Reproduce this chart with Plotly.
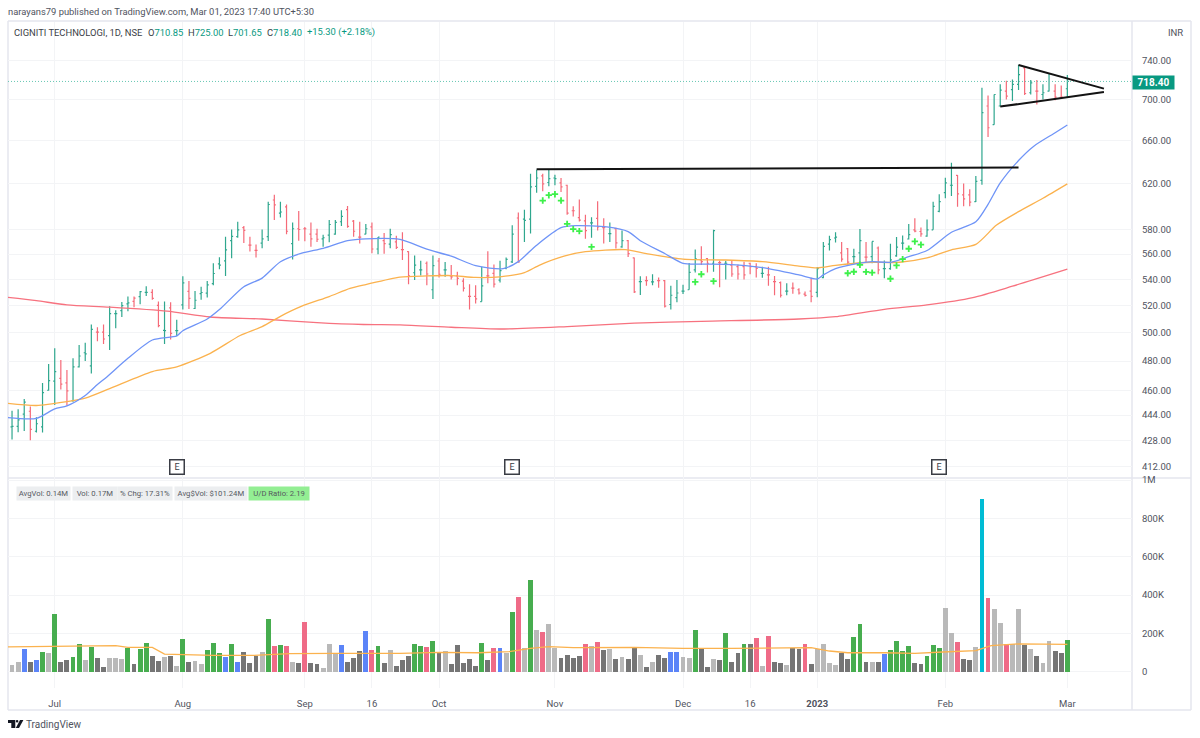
import plotly.graph_objects as go

W, H = 1200, 738
FONT = "Roboto"
TEXT = "#50535e"
GRID = "#f3f4f6"
FRAME = "#e4e6ee"
UP_TEXT = "#089981"

highs = [
    446.8, 447.8, 454.5, 449.5, 442.7, 465, 478, 489, 480.7, 473.9,
    481.9, 491.3, 492.9, 506, 504, 506, 519.5, 516.5, 522.7, 526.8,
    526.8, 531, 534.6, 532.3, 523, 523, 522.5, 509.5, 542.4, 538.7,
    531, 534.3, 538.7, 552.7, 557.5, 574.3, 580.3, 586.8, 583.2, 574.3,
    567.8, 580.3, 604, 610, 604, 601.6, 586.2, 596, 582.4, 586.2,
    580.9, 576, 588.3, 588.3, 596.6, 600.2, 588.3, 586.8, 584.8, 586.2,
    574, 577.3, 580.9, 575,
    578, 562.4, 559, 554.7, 554.2, 559, 557, 553.7, 551.3, 546,
    540.8, 536.3, 535.5, 550, 562.4, 551.8, 554.7, 557.3, 583.8, 594.6,
    597, 628.9, 632.4, 628.9, 633, 628, 625, 619, 600, 605.9,
    592.7, 590.6, 604.4, 589.7, 586.2, 581.8, 579.4, 571.6, 557.3, 542.5,
    542.5, 544, 541.5, 539.5, 535, 539.5, 535.8, 553, 563.7, 566.4,
    557, 580, 554.7, 554.7, 554.7, 551.8, 554, 553.2, 552.7, 550,
    550, 542.7, 538.3, 537, 537.5, 533.2,
    530.6, 541.3, 549.8, 569.9, 575, 578, 570, 565, 564.4, 580.6,
    569.9, 570.4, 566.3, 555, 568.5, 574, 575.3, 585, 589.7, 582,
    588.7, 604, 610.6, 625.2, 639, 627.7, 620, 615, 626.8, 712,
    704, 705, 715.4, 719, 720.5, 735.9, 733.5, 719.8, 719.8, 715.4,
    726.7, 715.4, 714.3, 725,
]
lows = [
    428.6, 433.2, 434, 428.2, 433, 433, 459.8, 450.6, 460.7, 450,
    452.7, 475.5, 480, 471.4, 494, 492, 487.8, 503.3, 511.5, 515.8,
    518.8, 521, 527.3, 524.4, 504, 492, 495.2, 497.5, 517, 517.5,
    517.5, 524.4, 526, 535.5, 547.9, 542.7, 556.8, 573.5, 569, 562.1,
    557.3, 564.7, 570.7, 588.3, 590.4, 576.4, 555.8, 570.9, 570.5, 566,
    570, 566, 569.7, 576, 583.3, 581.8, 574.3, 568.7, 576.4, 560.8,
    560, 560.3, 564.7, 564.2,
    555.3, 536.3, 539.5, 543, 535.5, 525, 541.5, 542, 540, 535.5,
    530.7, 517, 521.5, 523, 537, 533.7, 537.5, 548, 553, 553.2,
    570, 577, 611.8, 613.2, 617.6, 618.5, 612.6, 592.7, 591.2, 587,
    572.5, 573.4, 579.4, 568.6, 570, 564.5, 565.3, 557.8, 529.5, 528,
    535, 535.5, 533.5, 518.5, 517, 522.5, 528.8, 532, 545.3, 551.3,
    545.3, 546, 534, 540, 542, 540, 540, 544, 541.5, 541.3,
    535, 527.8, 526, 527.8, 529, 528.3,
    526.8, 522.5, 526.3, 540.8, 563, 569.6, 554, 551.5, 552.8, 552.8,
    553.3, 552.8, 544, 540.8, 547.5, 558, 563.5, 572, 578, 574.2,
    574.2, 580, 594.8, 607, 609, 599.6, 600, 600, 603.7, 619,
    663, 675, 693, 700, 698.4, 709.5, 704.4, 705, 695, 700,
    708, 699.3, 701.7, 701.65,
]
opens = [
    436.5, 436.9, 444.6, 446.5, 433.8, 436.5, 460.2, 466.3, 468.2, 465.2,
    453.3, 476, 485.8, 476.7, 500.5, 500.5, 497.9, 514, 516.2, 521.2,
    523.2, 526.8, 530, 530, 520.2, 501.7, 518.3, 501.5, 520.5, 530.8,
    517.8, 529, 529.4, 536.7, 552.2, 554.6, 571, 574.3, 581.8, 567.3,
    563, 569, 574.3, 605.5, 594.2, 599.6, 568.5, 580.9, 580.9, 576.4,
    576.4, 572.5, 575.6, 576.4, 586.8, 597.2, 587.4, 574, 576.4, 582.4,
    564.2, 571, 568.2, 570,
    563.7, 562, 545.2, 547.4, 552.7, 532, 554.5, 547.4, 542.7, 542.7,
    538.7, 527, 527, 523, 542.7, 544.7, 539.5, 548.7, 553.8, 590,
    589, 589, 617.6, 627, 621, 625, 620.6, 618.5, 596.2, 590.3,
    587.6, 585.9, 589.7, 581.8, 576.9, 581, 565.9, 571, 557, 538.3,
    539, 538, 539, 539, 520.8, 526, 531, 532, 547.4, 555.3,
    556.5, 552.7, 553.2, 552.7, 551.3, 550, 550, 552.7, 550, 544.7,
    543.5, 538.3, 537.5, 531, 533.2, 532,
    528.6, 531, 530, 541.3, 568.2, 573.2, 561, 564.4, 558, 561,
    557.6, 558, 565, 548.5, 548.5, 558.6, 569, 572.4, 580, 578.6,
    574.8, 580, 595.7, 612, 618.5, 627.4, 610, 610, 604, 622.8,
    693.4, 675, 693.4, 708.5, 710, 715.4, 732.5, 706.8, 708.5, 705,
    708.5, 708.5, 702, 710.85,
]
closes = [
    436.9, 441, 452.4, 435, 438.5, 458.6, 466.6, 472.8, 464.3, 459.8,
    476, 483.5, 485, 502.5, 500.5, 495.5, 514, 514, 520, 522,
    525.6, 530.5, 530, 525.4, 505.2, 501.5, 499.5, 501.5, 537.3, 525.4,
    524, 529.9, 535.7, 544.6, 551.3, 563.5, 574.6, 580, 579.5, 567.3,
    563, 572.5, 601.6, 601.3, 595.1, 578.8, 580.9, 580.3, 580.9, 572.5,
    572.2, 573.4, 584.5, 586.2, 591.3, 582.9, 578.8, 574, 580.9, 564.2,
    574, 568.5, 576, 565.5,
    563.7, 542.8, 551.3, 547.4, 544.2, 550.8, 544, 547.4, 542, 540.8,
    533.2, 527, 525, 535, 542.7, 536.3, 546.8, 555.8, 576.5, 553.8,
    588, 617, 625, 619.7, 624.4, 624.5, 617, 594.2, 596.2, 588.2,
    579.4, 585.9, 582.4, 581.8, 576.9, 569.2, 571, 560.5, 530.3, 538.3,
    539, 538, 539, 519.5, 527.8, 529.5, 531, 545.5, 556.3, 554,
    552.7, 579.4, 553.2, 552.7, 544.2, 544.2, 543.5, 550, 548.7, 544.7,
    543.5, 538.3, 527.8, 531, 533.2, 529.5,
    527.7, 527, 548.5, 566.3, 571.8, 574, 556, 553.6, 558, 571,
    557.6, 570.4, 547.5, 548.5, 555.4, 565.8, 569, 576, 579, 576.6,
    580, 600, 604, 620.6, 618.5, 610.8, 606.5, 603.7, 622, 686.9,
    672, 705, 709.5, 703.4, 715.4, 725.6, 706, 717, 708.5, 706.8,
    726.5, 702.4, 702.3, 718.4,
]
bar_dir = (
    "GGGRGGGGRR" "GGGGRRGGGG" "RGGRRGRGGR" "GGGGGGGGRR" "RGGRGRGRRR"
    "RGGGGRRRGR" "GRGR"
    "RRGGRGRGRR" "RRRGRRGGGR" "GGGRGGRRRR" "RGRRGRGRRG" "RGRRGGGGGR"
    "RGRGRRRRRG" "RRRGRR"
    "RRGGGGRRGG" "RGRGGGGGRR" "GGGGGRRRGG" "RGGRGGRGRG" "GRRG"
)
volumes = [
    35, 52, 119, 52, 61, 101, 98, 300, 52, 61,
    77, 147, 61, 131, 73, 23, 70, 70, 65, 122,
    40, 119, 150, 82, 56, 77, 82, 28, 171, 49,
    56, 40, 113, 148, 98, 77, 143, 49, 103, 44,
    84, 103, 274, 134, 138, 134, 49, 44, 262, 44,
    40, 19, 143, 98, 138, 52, 73, 110, 213, 113,
    134, 44, 113, 28,
    61, 82, 143, 134, 131, 160, 98, 106, 40, 140,
    47, 66, 28, 150, 61, 122, 126, 98, 312, 389,
    122, 480, 216, 208, 250, 122, 73, 86, 73, 80,
    147, 134, 155, 113, 117, 65, 77, 68, 122, 89,
    24, 52, 86, 73, 101, 101, 77, 72, 216, 124,
    24, 68, 61, 200, 52, 98, 147, 147, 175, 31,
    187, 52, 44, 35, 122, 117,
    147, 40, 120, 143, 47, 35, 98, 68, 183, 248,
    52, 52, 49, 92, 113, 159, 108, 134, 45, 40,
    84, 138, 126, 332, 200, 154, 65, 61, 129, 899,
    386, 326, 253, 143, 147, 326, 138, 119, 84, 47,
    162, 108, 98, 166,
]
vol_kind = (
    "LLBDBGLGDD" "GGLGDDLLLG" "DGGDDLDLGD" "LLGGGBGBDD" "DLGRGRLDRD"
    "DLLLBDDDBR" "GDLD"
    "DDGGRGDLDD" "DDDGDRBLGR" "LGLRLLDDDD" "RLRDLDLDDL" "DLDDBBLLGD"
    "DLDGDDGDRL" "RDDLDD"
    "RDLLLLDDGG" "DLDBGGGGDD" "GGGLLRDDLC" "RLLRLLDLDL" "LDDG"
)
vol_colors = {
    "G": "#47ad4f", "D": "#757575", "L": "#b9b9b9",
    "B": "#5b84f8", "R": "#ef6b87", "C": "#00bcd4",
}

# moving averages, read at the bends of each line
ma_blue_x = [-1, 4, 7, 9, 12, 14, 15.5, 19, 23, 27, 28, 32, 34, 38, 41, 44, 47.5, 51, 55, 58, 63.6,
             68, 72, 76, 80.5, 83, 86, 90, 92.5, 97.5, 101, 103, 107, 110, 113, 117, 123, 129,
             132, 133, 135, 139, 141, 144, 147, 150, 154, 158, 160, 162, 165, 167.5, 171, 173]
ma_blue_y = [442.5, 441.9, 448, 450, 456.8, 464, 469, 481.9, 494.8, 497.8, 501.5, 510, 517, 534.3, 541, 553.9, 560.8, 564.7, 571, 572.5, 572,
             564, 558.4, 550.8, 548.4, 554, 567.3, 581.8, 583.5, 582.4, 578.5, 571, 560.5, 552.6, 552, 551.8, 549.2, 543.5,
             540.3, 543.5, 548.5, 552.8, 554, 553.5, 558, 563, 578, 586.8, 601.7, 620.6, 641, 654.4, 667.2, 674.7]
ma_orange_x = [-1, 4, 9, 12, 16, 23, 27, 32.5, 37.4, 41, 44, 47.5, 52, 55.4, 58, 63.6,
               68, 72, 76, 80, 84, 86.5, 90.5, 94, 100.5, 104, 110, 117, 123, 129,
               132, 135, 140, 145.5, 150, 154, 158, 161.4, 165, 169, 173]
ma_orange_y = [451.7, 450.2, 452.7, 455, 461.3, 472.8, 476, 485.4, 498, 504.5, 512, 519.5, 526.8, 533, 536, 541.8,
               542.7, 543, 541.5, 542, 545.3, 551.3, 558.4, 562, 563.7, 560.5, 556, 555.3, 554, 550.5,
               549, 551, 553.3, 553.5, 557, 563.5, 568, 584, 595.4, 607, 619.7]
ma_red_x = [-1, 4, 9, 16, 25.4, 32.5, 41, 50, 57.6, 63.6, 72, 80, 91, 102, 113, 129,
            135, 143, 150, 157.5, 164, 173]
ma_red_y = [526.3, 523.7, 520.5, 518.8, 515.8, 511.5, 510, 507.4, 506, 505.7, 504, 502.7, 504.5, 507, 508.3, 510,
            511.7, 517.2, 520.5, 526, 534.7, 548]
vol_ma_x = [-1, 3, 7, 11, 14, 17, 19, 23, 25, 28.5, 33, 39.5, 45.5, 53, 58, 63.6,
            70, 76.5, 81.5, 85, 88, 92, 102, 110, 118, 129,
            131, 134, 137, 143, 148, 152.6, 158, 160.5, 165, 173]
vol_ma_y = [129, 131, 133, 134, 138, 136, 127, 127, 92, 89, 85, 85, 94, 96, 96, 96,
            101, 99, 105, 122, 131, 126, 127, 122, 122, 126,
            126, 108, 99, 99, 96, 103, 110, 136, 145, 143]

plus_x = [87, 88, 89, 90, 91, 92, 93, 95, 112, 113, 115,
          137, 138, 139, 140, 141, 144, 145, 146, 147, 148, 149]
plus_y = [605, 609.7, 610.6, 605, 585, 580.6, 578.9, 565.9, 538, 544, 538.6,
          544.8, 546, 551.5, 545.9, 545.3, 540.5, 551, 556, 564.4, 570.4, 567.7]

# hand drawn lines: [start bar, end bar], [start price, end price]
base_x, base_y = [86, 165], [633, 634.5]
tri_top_x, tri_top_y = [165, 179], [735.6, 711]
tri_low_x, tri_low_y = [162, 179], [692.8, 707.5]

earnings_x = [27, 82, 152]
x_tickvals = [7, 28, 48, 59, 70, 89, 110, 121, 132, 153, 173]
x_ticktext = ["Jul", "Aug", "Sep", "16", "Oct", "Nov", "Dec", "16", "<b>2023</b>", "Feb", "Mar"]
price_ticks = [740, 700, 660, 620, 580, 560, 540, 520, 500, 480, 460, 444, 428, 412]
vol_ticks = [0, 200, 400, 600, 800, 1000]
vol_ticktext = ["0", "200K", "400K", "600K", "800K", "1M"]
chips = [
    ("AvgVol: 0.14M", 16, 53, "#eceef0"),
    ("Vol: 0.17M", 72, 44, "#eceef0"),
    ("% Chg: 17.31%", 117, 54, "#eceef0"),
    ("Avg$Vol: $101.24M", 174, 72, "#eceef0"),
    ("U/D Ratio: 2.19", 248, 60, "#93ee93"),
]
# header pieces of the legend line: text, left pixel, colour
legend_bits = [
    ("CIGNITI TECHNOLOGI, 1D, NSE", 12, "#3b3e47"),
    ("O<span style='color:%s'>710.85</span>" % UP_TEXT, 146, "#3b3e47"),
    ("H<span style='color:%s'>725.00</span>" % UP_TEXT, 186, "#3b3e47"),
    ("L<span style='color:%s'>701.65</span>" % UP_TEXT, 226, "#3b3e47"),
    ("C<span style='color:%s'>718.40</span>" % UP_TEXT, 265, "#3b3e47"),
    ("+15.30 (+2.18%)", 305, UP_TEXT),
]
last_price = 718.4
X_RANGE = [-0.66, 183.6]


def px(x):
    return x / W


def py(y):
    return 1 - y / H


def ohlc_trace(kind, color):
    idx = [i for i, d in enumerate(bar_dir) if d == kind]
    return go.Ohlc(
        x=idx,
        open=[opens[i] for i in idx],
        high=[highs[i] for i in idx],
        low=[lows[i] for i in idx],
        close=[closes[i] for i in idx],
        increasing_line_color=color,
        decreasing_line_color=color,
        line_width=1.2,
        tickwidth=0.25,
        xaxis="x",
        yaxis="y",
        showlegend=False,
    )


def line_trace(x, y, color, width, axes=("x", "y"), dash=None, shape="linear"):
    return go.Scatter(
        x=x, y=y, mode="lines",
        line=dict(color=color, width=width, dash=dash, shape=shape, smoothing=0.7),
        xaxis=axes[0], yaxis=axes[1], showlegend=False,
    )


fig = go.Figure()
fig.add_trace(line_trace(X_RANGE, [last_price, last_price], "#66c7b3", 1, dash="1px,2px"))
fig.add_trace(ohlc_trace("G", "#2fa78e"))
fig.add_trace(ohlc_trace("R", "#f56a78"))
fig.add_trace(line_trace(ma_red_x, ma_red_y, "#f7727f", 1.3, shape="spline"))
fig.add_trace(line_trace(ma_orange_x, ma_orange_y, "#fbb24e", 1.3, shape="spline"))
fig.add_trace(line_trace(ma_blue_x, ma_blue_y, "#6f94f7", 1.3, shape="spline"))
fig.add_trace(go.Scatter(
    x=plus_x, y=plus_y, mode="markers",
    marker=dict(symbol="cross-thin", size=4.6, color="#3df04a", line=dict(width=1.8, color="#3df04a")),
    xaxis="x", yaxis="y", showlegend=False,
))
fig.add_trace(line_trace(base_x, base_y, "#131313", 2))
fig.add_trace(line_trace(tri_top_x, tri_top_y, "#131313", 2))
fig.add_trace(line_trace(tri_low_x, tri_low_y, "#131313", 2))
fig.add_trace(go.Bar(
    x=list(range(len(volumes))), y=volumes,
    marker=dict(color=[vol_colors[k] for k in vol_kind], line_width=0),
    width=0.8, xaxis="x2", yaxis="y2", showlegend=False,
))
fig.add_trace(line_trace(vol_ma_x, vol_ma_y, "#fbb24e", 1.3, axes=("x2", "y2")))

axis_font = dict(family=FONT, size=9.5, color=TEXT)
fig.update_layout(
    width=W, height=H, margin=dict(l=0, r=0, t=0, b=0),
    paper_bgcolor="white", plot_bgcolor="white",
    font=axis_font, showlegend=False, bargap=0,
    xaxis=dict(
        domain=[px(8), px(1132)], range=X_RANGE, anchor="y", automargin=False,
        tickvals=x_tickvals, showticklabels=False, ticks="",
        gridcolor=GRID, gridwidth=1, zeroline=False, rangeslider_visible=False,
    ),
    yaxis=dict(
        domain=[py(478), py(22)], type="log", range=[2.6080, 2.8936],
        side="right", anchor="x", tickvals=price_ticks, automargin=False,
        ticktext=["%.2f" % t for t in price_ticks],
        ticks="outside", ticklen=7, tickcolor="rgba(0,0,0,0)",
        gridcolor=GRID, gridwidth=1, zeroline=False,
    ),
    xaxis2=dict(
        domain=[px(8), px(1132)], range=X_RANGE, anchor="y2", automargin=False,
        tickvals=x_tickvals, ticktext=x_ticktext,
        ticks="outside", ticklen=7, tickcolor="rgba(0,0,0,0)",
        gridcolor=GRID, gridwidth=1, zeroline=False,
    ),
    yaxis2=dict(
        domain=[py(688), py(478)], range=[-85, 1011], automargin=False,
        side="right", anchor="x2", tickvals=vol_ticks, ticktext=vol_ticktext,
        ticks="outside", ticklen=7, tickcolor="rgba(0,0,0,0)",
        gridcolor=GRID, gridwidth=1, zeroline=False,
    ),
)

notes = [
    dict(x=px(6), y=py(11), text="narayans79 published on TradingView.com, Mar 01, 2023 17:40 UTC+5:30",
         xanchor="left", font=dict(family=FONT, size=9.4, color=TEXT)),
    dict(x=px(1166), y=py(32), text="INR", xanchor="left", font=dict(family=FONT, size=9.5, color=TEXT)),
    dict(x=px(1132), y=py(82), text="<b>718.40</b>", xanchor="left", width=41, height=13, align="center",
         bgcolor=UP_TEXT, borderpad=0, font=dict(family=FONT, size=10, color="white")),
    dict(x=px(24), y=py(724), text="TradingView", xanchor="left", font=dict(family=FONT, size=10, color=TEXT)),
]
for label, left, color in legend_bits:
    notes.append(dict(x=px(left), y=py(32), text=label, xanchor="left",
                      font=dict(family=FONT, size=9.4, color=color)))
for label, left, width, bg in chips:
    notes.append(dict(x=px(left), y=py(493), text=label, xanchor="left", width=width, height=13,
                      align="center", bgcolor=bg, borderpad=0,
                      font=dict(family=FONT, size=7.7, color="#55585f")))
for a in notes:
    a.update(xref="paper", yref="paper", showarrow=False, yanchor="middle")
for ex in earnings_x:
    notes.append(dict(x=ex, xref="x", y=py(467), yref="paper", yanchor="middle", text="E", showarrow=False,
                      width=13, height=13, borderpad=0, align="center",
                      bgcolor="white", bordercolor="#3a3d45", borderwidth=1.5,
                      font=dict(family=FONT, size=9, color="#3a3d45")))
fig.update_layout(annotations=notes)


def hline(y, x0=8, x1=1191):
    return dict(type="line", xref="paper", yref="paper", x0=px(x0), x1=px(x1), y0=py(y), y1=py(y),
                line=dict(color=FRAME, width=1.5), layer="below")


def vline(x, y0=21, y1=710):
    return dict(type="line", xref="paper", yref="paper", x0=px(x), x1=px(x), y0=py(y0), y1=py(y1),
                line=dict(color=FRAME, width=1.5), layer="below")


def logo_path(points):
    head = "M" + " L".join("%.5f %.5f" % (px(x), py(y)) for x, y in points) + " Z"
    return dict(type="path", xref="paper", yref="paper", path=head,
                fillcolor="#131722", line_width=0)


shapes = [hline(21), hline(478), hline(710), vline(8), vline(1132), vline(1191)]
shapes.append(logo_path([(8, 720), (15.3, 720), (15.3, 728), (11.3, 728), (11.3, 723), (8, 723)]))
shapes.append(logo_path([(20, 720), (23.4, 720), (19, 728), (15.8, 728)]))
shapes.append(dict(type="circle", xref="paper", yref="paper", x0=px(15.8), x1=px(18.4),
                   y0=py(722.6), y1=py(720), fillcolor="#131722", line_width=0))
fig.update_layout(shapes=shapes)

fig.write_html("out.html", config={"displayModeBar": False},
               post_script="document.body.style.margin='0';")
